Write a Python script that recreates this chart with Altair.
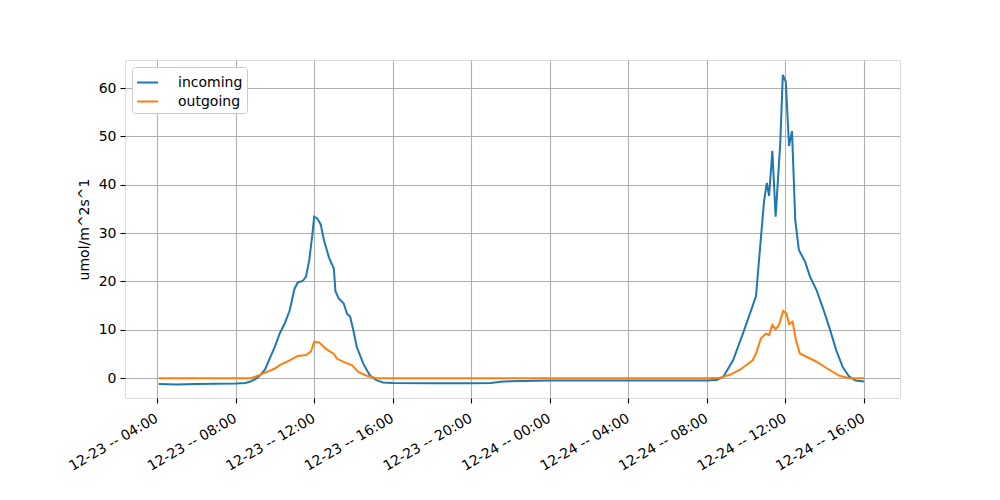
import altair as alt
import pandas as pd

# incoming series: (timestamp, value)
in_times = [
    "2020-12-23T04:05", "2020-12-23T05:00", "2020-12-23T06:00", "2020-12-23T07:00", "2020-12-23T08:00",
    "2020-12-23T08:30", "2020-12-23T08:45", "2020-12-23T09:00", "2020-12-23T09:15", "2020-12-23T09:30",
    "2020-12-23T09:45", "2020-12-23T10:00", "2020-12-23T10:15", "2020-12-23T10:30", "2020-12-23T10:45",
    "2020-12-23T11:00", "2020-12-23T11:10", "2020-12-23T11:25", "2020-12-23T11:35", "2020-12-23T11:45",
    "2020-12-23T11:55", "2020-12-23T12:00", "2020-12-23T12:10", "2020-12-23T12:20", "2020-12-23T12:30",
    "2020-12-23T12:45", "2020-12-23T13:00", "2020-12-23T13:05", "2020-12-23T13:15", "2020-12-23T13:30",
    "2020-12-23T13:40", "2020-12-23T13:50", "2020-12-23T14:00", "2020-12-23T14:10", "2020-12-23T14:30",
    "2020-12-23T14:50", "2020-12-23T15:10", "2020-12-23T15:30", "2020-12-23T16:00", "2020-12-23T18:00",
    "2020-12-23T20:00", "2020-12-23T21:00", "2020-12-23T21:30", "2020-12-23T22:00", "2020-12-24T00:00",
    "2020-12-24T04:00", "2020-12-24T08:00", "2020-12-24T08:30", "2020-12-24T08:50", "2020-12-24T09:20",
    "2020-12-24T09:50", "2020-12-24T10:20", "2020-12-24T10:30", "2020-12-24T10:40", "2020-12-24T10:50",
    "2020-12-24T10:55", "2020-12-24T11:00", "2020-12-24T11:03", "2020-12-24T11:10", "2020-12-24T11:20",
    "2020-12-24T11:30", "2020-12-24T11:44", "2020-12-24T11:52", "2020-12-24T12:01", "2020-12-24T12:11",
    "2020-12-24T12:20", "2020-12-24T12:30", "2020-12-24T12:41", "2020-12-24T13:00", "2020-12-24T13:15",
    "2020-12-24T13:35", "2020-12-24T13:55", "2020-12-24T14:15", "2020-12-24T14:35", "2020-12-24T14:55",
    "2020-12-24T15:15", "2020-12-24T15:35", "2020-12-24T16:00",
]
in_values = [
    -1.2, -1.3, -1.2, -1.15, -1.1,
    -1.0, -0.7, -0.2, 0.6, 1.8,
    4.2, 6.5, 9.3, 11.3, 14.0,
    18.5, 19.8, 20.1, 21.0, 24.4,
    30.0, 33.4, 33.0, 31.8, 28.5,
    25.0, 22.7, 18.0, 16.5, 15.5,
    13.4, 12.7, 9.8, 6.5, 3.0,
    0.6, -0.4, -0.9, -1.0, -1.05,
    -1.05, -1.0, -0.75, -0.65, -0.5,
    -0.5, -0.5, -0.4, 0.3, 3.7,
    9.2, 15.0, 17.0, 25.0, 33.0,
    36.8, 39.0, 40.4, 37.7, 47.0,
    33.4, 48.5, 62.7, 61.3, 48.0,
    51.1, 32.7, 26.5, 24.1, 21.0,
    18.2, 14.4, 10.3, 5.8, 2.3,
    0.3, -0.5, -0.7,
]

# outgoing series
out_times = [
    "2020-12-23T04:05", "2020-12-23T08:45", "2020-12-23T09:00", "2020-12-23T09:25", "2020-12-23T10:00",
    "2020-12-23T10:15", "2020-12-23T10:45", "2020-12-23T11:10", "2020-12-23T11:35", "2020-12-23T11:50",
    "2020-12-23T12:00", "2020-12-23T12:15", "2020-12-23T12:35", "2020-12-23T13:00", "2020-12-23T13:10",
    "2020-12-23T13:35", "2020-12-23T13:55", "2020-12-23T14:15", "2020-12-23T14:40", "2020-12-23T15:10",
    "2020-12-23T16:00", "2020-12-24T08:00", "2020-12-24T08:40", "2020-12-24T09:10", "2020-12-24T09:40",
    "2020-12-24T10:20", "2020-12-24T10:30", "2020-12-24T10:45", "2020-12-24T11:00", "2020-12-24T11:10",
    "2020-12-24T11:20", "2020-12-24T11:30", "2020-12-24T11:40", "2020-12-24T11:53", "2020-12-24T12:03",
    "2020-12-24T12:11", "2020-12-24T12:22", "2020-12-24T12:32", "2020-12-24T12:44", "2020-12-24T13:35",
    "2020-12-24T14:05", "2020-12-24T14:45", "2020-12-24T15:15", "2020-12-24T16:00",
]
out_values = [
    0.0, 0.0, 0.3, 1.0, 2.0,
    2.7, 3.7, 4.6, 4.8, 5.5,
    7.5, 7.4, 6.1, 5.0, 4.0,
    3.2, 2.7, 1.3, 0.5, 0.0,
    0.0, 0.0, 0.1, 0.7, 1.7,
    3.7, 5.1, 8.2, 9.2, 8.9,
    11.0, 10.1, 11.0, 13.9, 13.4,
    11.2, 11.7, 7.9, 5.1, 3.4,
    2.1, 0.5, 0.0, 0.0,
]

series_names = ["incoming", "outgoing"]
series_colors = ["#1f77b4", "#ff7f0e"]

x_ticks = [
    "2020-12-23T04:00", "2020-12-23T08:00", "2020-12-23T12:00", "2020-12-23T16:00", "2020-12-23T20:00",
    "2020-12-24T00:00", "2020-12-24T04:00", "2020-12-24T08:00", "2020-12-24T12:00", "2020-12-24T16:00",
]
x_domain = ["2020-12-23T02:22", "2020-12-24T17:50"]
y_ticks = [0, 10, 20, 30, 40, 50, 60]
y_domain = [-4.1, 65.8]

df = pd.concat([
    pd.DataFrame({"time": in_times, "value": in_values, "series": series_names[0]}),
    pd.DataFrame({"time": out_times, "value": out_values, "series": series_names[1]}),
])

font = "DejaVu Sans"
fs = 14

chart = alt.Chart(df).mark_line(strokeWidth=2, clip=True).encode(
    x=alt.X(
        "time:T",
        scale=alt.Scale(domain=x_domain),
        axis=alt.Axis(
            values=x_ticks, format="%m-%d -- %H:%M", labelAngle=330,
            labelAlign="right", labelBaseline="top", title=None,
            labelOverlap=False, labelBound=False, labelFlush=False,
            grid=True, gridColor="#b0b0b0", gridWidth=1.1,
            tickColor="black", tickSize=5, tickWidth=1.1, labelPadding=8,
            labelOffset=-4,
            labelFontSize=fs, labelColor="black", domain=False,
            labelFont=font,
        ),
    ),
    y=alt.Y(
        "value:Q",
        scale=alt.Scale(domain=y_domain, nice=False, zero=False),
        axis=alt.Axis(
            values=y_ticks, title="umol/m^2s^1", titleFontSize=fs,
            titleFontWeight="normal", titleFont=font, titlePadding=7,
            titleColor="black",
            grid=True, gridColor="#b0b0b0", gridWidth=1.1,
            tickColor="black", tickSize=5, tickWidth=1.1, labelPadding=4,
            labelFontSize=fs, labelColor="black", domain=False, labelFont=font,
        ),
    ),
    color=alt.Color(
        "series:N",
        scale=alt.Scale(domain=series_names, range=series_colors),
        legend=alt.Legend(
            title=None, orient="top-left", offset=7,
            fillColor="white", strokeColor="#cccccc", cornerRadius=3,
            padding=4, symbolType="stroke", symbolSize=441, symbolStrokeWidth=2,
            labelFontSize=fs, labelFont=font, labelColor="black", rowPadding=0,
            labelOffset=19,
        ),
    ),
).properties(
    width=775, height=338,
    autosize=alt.AutoSizeParams(type="none"),
    padding={"left": 117, "top": 52, "right": 92, "bottom": 90},
).configure_view(stroke="black", strokeWidth=1.1).configure(background="white")

chart.save("out.html", embed_options={"renderer": "svg", "actions": False})
